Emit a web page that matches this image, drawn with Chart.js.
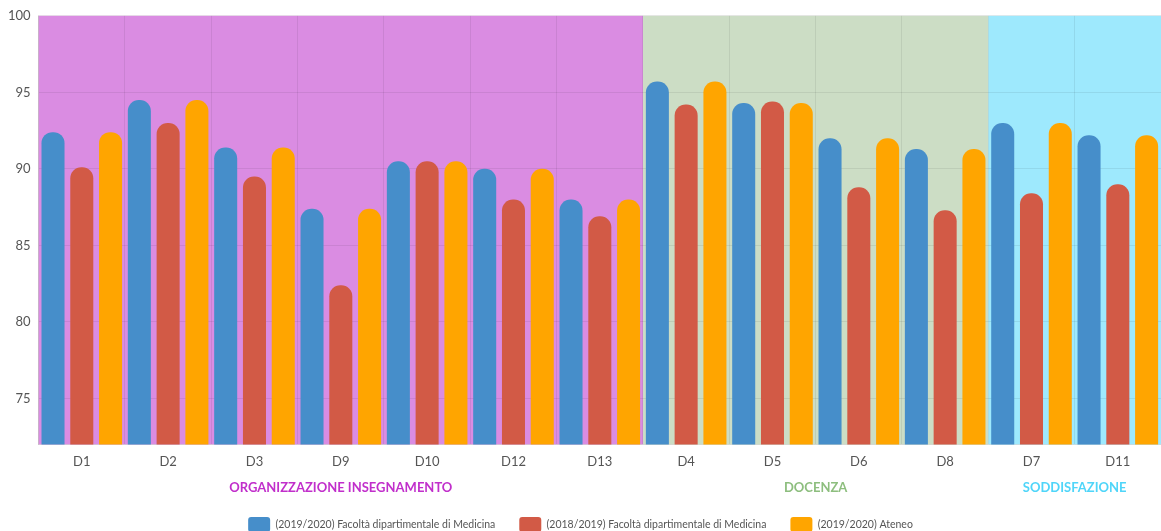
<!DOCTYPE html>
<html><head><meta charset="utf-8">
<script src="https://cdn.jsdelivr.net/npm/chart.js@4"></script>
<style>html,body{margin:0;padding:0;background:#fff}#wrap{width:1161px;height:531px}</style>
</head><body><div id="wrap"><canvas id="c"></canvas></div>
<script>
const categories = ['D1','D2','D3','D9','D10','D12','D13','D4','D5','D6','D8','D7','D11'];
const facolta2020 = [92.4,94.5,91.4,87.4,90.5,90.0,88.0,95.7,94.3,92.0,91.3,93.0,92.2];
const facolta2019 = [90.1,93.0,89.5,82.4,90.5,88.0,86.9,94.2,94.4,88.8,87.3,88.4,89.0];
const ateneo2020  = [92.4,94.5,91.4,87.4,90.5,90.0,88.0,95.7,94.3,92.0,91.3,93.0,92.2];
const seriesNames = ['(2019/2020) Facoltà dipartimentale di Medicina','(2018/2019) Facoltà dipartimentale di Medicina','(2019/2020) Ateneo'];
const yTicks = [75,80,85,90,95,100];
const groups = [
  {label:'ORGANIZZAZIONE INSEGNAMENTO', from:'D1', to:'D13', bg:'#DA8CE2', fg:'#C12FCB'},
  {label:'DOCENZA', from:'D4', to:'D8', bg:'#CCDDC5', fg:'#8DBE7E'},
  {label:'SODDISFAZIONE', from:'D7', to:'D11', bg:'#9EE9FD', fg:'#4FD5F9'}
];
const FONT = 'Lato';
const LEGEND_TRIM = 11;

const groupPlugin = {
  id:'groups',
  beforeLayout(chart){
    const lg = chart.legend;
    if (lg && !lg._trimmed){
      const f = lg.fit.bind(lg);
      lg.fit = function(){ f(); this.height -= LEGEND_TRIM; };
      lg._trimmed = true;
    }
  },
  beforeDraw(chart){
    const {ctx, chartArea:a, scales:{x}} = chart;
    const half = (x.getPixelForValue(1)-x.getPixelForValue(0))/2;
    ctx.save();
    groups.forEach(g=>{
      const l = x.getPixelForValue(categories.indexOf(g.from))-half;
      const r = x.getPixelForValue(categories.indexOf(g.to))+half;
      ctx.fillStyle = g.bg;
      ctx.fillRect(l, a.top, r-l, a.bottom-a.top);
    });
    ctx.restore();
  },
  afterDraw(chart){
    const {ctx, chartArea:a, scales:{x}} = chart;
    const half = (x.getPixelForValue(1)-x.getPixelForValue(0))/2;
    ctx.save();
    ctx.font = 'bold 13px '+FONT;
    ctx.textAlign='center'; ctx.textBaseline='middle';
    groups.forEach(g=>{
      const l = x.getPixelForValue(categories.indexOf(g.from))-half;
      const r = x.getPixelForValue(categories.indexOf(g.to))+half;
      ctx.fillStyle = g.fg;
      ctx.fillText(g.label, (l+r)/2, a.bottom+43);
    });
    ctx.restore();
  }
};

const mk = (label, data, color) => ({label, data, backgroundColor:color, borderRadius:11, borderSkipped:'start', barPercentage:0.8, categoryPercentage:1.0});

new Chart(document.getElementById('c'), {
  type:'bar',
  data:{labels:categories, datasets:[
    mk(seriesNames[0], facolta2020, '#468ECA'),
    mk(seriesNames[1], facolta2019, '#D25A46'),
    mk(seriesNames[2], ateneo2020, '#FFA500')
  ]},
  options:{
    responsive:true, maintainAspectRatio:false, animation:false,
    layout:{padding:{left:0,right:0,top:8,bottom:0}},
    plugins:{
      tooltip:{enabled:false},
      legend:{position:'bottom', labels:{font:{family:FONT,size:10.5}, color:'#555', boxWidth:22, boxHeight:15, padding:24, useBorderRadius:true, borderRadius:3}}
    },
    scales:{
      x:{
        grid:{color:'rgba(0,0,0,0.07)', drawTicks:false},
        border:{color:'rgba(0,0,0,0.1)'},
        ticks:{font:{family:FONT,size:13}, color:'#555', padding:10},
        afterFit(s){ s.height += 13; }
      },
      y:{
        min:72, max:100,
        afterBuildTicks(s){ s.ticks = yTicks.map(v=>({value:v})); },
        grid:{color:'rgba(0,0,0,0.07)', drawTicks:false},
        border:{color:'rgba(0,0,0,0.1)'},
        ticks:{font:{family:FONT,size:13}, color:'#555', padding:8}
      }
    }
  },
  plugins:[groupPlugin]
});
</script></body></html>
